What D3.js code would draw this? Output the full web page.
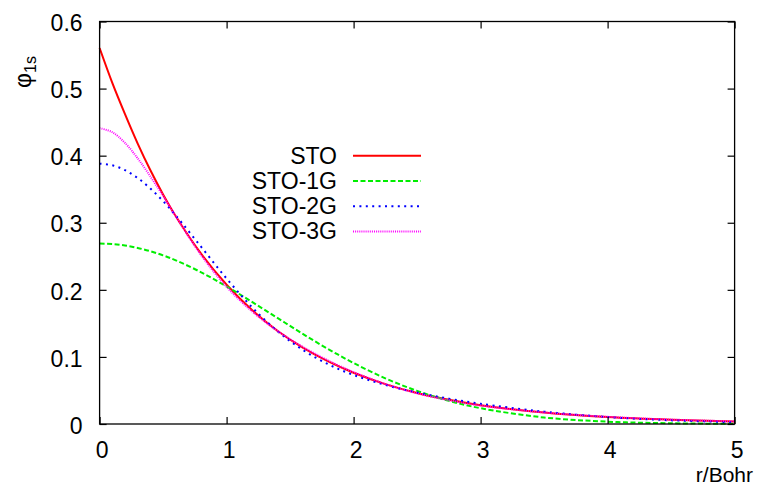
<!DOCTYPE html>
<html><head><meta charset="utf-8">
<script src="https://cdn.jsdelivr.net/npm/d3@7"></script>
<style>
html,body{margin:0;padding:0;background:#fff;}
svg text{font-family:"Liberation Sans",Arial,sans-serif;fill:#000;}
</style></head>
<body>
<svg id="chart" width="757" height="485"></svg>
<script>
// r values (Bohr)
const rValues = [0,0.1,0.2,0.3,0.4,0.5,0.6,0.8,1.0,1.2,1.4,1.6,1.8,2.0,2.25,2.5,2.75,3.0,3.5,4.0,4.5,5.0];
// series
const sto   = [0.5605,0.5085,0.4619,0.4180,0.3782,0.3422,0.3096,0.2535,0.2076,0.1699,0.1391,0.1139,0.0933,0.0764,0.0595,0.0463,0.0361,0.0281,0.0170,0.0103,0.0063,0.0038];
const sto1g = [0.2690,0.2683,0.2661,0.2625,0.2575,0.2513,0.2440,0.2261,0.2051,0.1820,0.1581,0.1343,0.1117,0.0909,0.0681,0.0494,0.0346,0.0235,0.0097,0.0035,0.0011,0.0003];
const sto2g = [0.3880,0.3856,0.3784,0.3666,0.3510,0.3322,0.3108,0.2640,0.2168,0.1741,0.1385,0.1105,0.0891,0.0731,0.0582,0.0469,0.0378,0.0302,0.0184,0.0104,0.0055,0.0027];
const sto3g = [0.4410,0.4350,0.4190,0.3960,0.3690,0.3400,0.3095,0.2515,0.2045,0.1679,0.1389,0.1149,0.0946,0.0773,0.0595,0.0458,0.0354,0.0275,0.0171,0.0107,0.0066,0.0039];
const seriesNames = ["STO","STO-1G","STO-2G","STO-3G"];
const seriesColors = ["#ff0000","#00ee00","#0000ff","#ff00ff"];
const seriesDash = [null,"5,2.5","2,4.4","1,1.1"];
const xTicks = [0,1,2,3,4,5];
const yTicks = [0,0.1,0.2,0.3,0.4,0.5,0.6];

const svg = d3.select("#chart");
const L = 99.6, R = 734.6, T = 21.5, B = 424;
const x = d3.scaleLinear().domain([0,5]).range([L,R]);
const y = d3.scaleLinear().domain([0,0.6]).range([B,T]);
const FS = 23;

// curves
const allSeries = [sto, sto1g, sto2g, sto3g];
const line = d3.line().x(d=>x(d[0])).y(d=>y(d[1])).curve(d3.curveCatmullRom.alpha(0.5));
const g = svg.append("g");
allSeries.forEach((s,i)=>{
  const pts = rValues.map((r,j)=>[r,s[j]]);
  const p = g.append("path").attr("d", line(pts)).attr("fill","none")
    .attr("stroke", seriesColors[i]).attr("stroke-width", 2);
  if (seriesDash[i]) p.attr("stroke-dasharray", seriesDash[i]);
});

// axes with inward ticks (mirrored)
const tk = 7;
const axB = d3.axisBottom(x).tickValues(xTicks).tickSize(-tk).tickPadding(tk+11).tickFormat(d3.format("d"));
const axT = d3.axisTop(x).tickValues(xTicks).tickSize(-tk).tickFormat("");
const axL = d3.axisLeft(y).tickValues(yTicks).tickSize(-tk).tickPadding(tk+10).tickFormat(d=>d===0?"0":d3.format(".1f")(d));
const axR = d3.axisRight(y).tickValues(yTicks).tickSize(-tk).tickFormat("");
function style(sel){
  sel.selectAll(".domain").remove();
  sel.selectAll("line").attr("stroke","#000").attr("stroke-width",1.2);
  sel.selectAll("text").attr("font-size",FS).attr("font-family","Liberation Sans, Arial, sans-serif");
}
svg.append("g").attr("transform",`translate(0,${B})`).call(axB).call(style)
  .selectAll("text").attr("dx",2);
svg.append("g").attr("transform",`translate(0,${T})`).call(axT).call(style);
svg.append("g").attr("transform",`translate(${L},0)`).call(axL).call(style)
  .selectAll("text").attr("dy","0.4em");
svg.append("g").attr("transform",`translate(${R},0)`).call(axR).call(style);

// frame
svg.append("rect").attr("x",L).attr("y",T).attr("width",R-L).attr("height",B-T)
  .attr("fill","none").attr("stroke","#000").attr("stroke-width",1.3);

// axis labels
svg.append("text").attr("x",753).attr("y",482).attr("text-anchor","end")
  .attr("font-size",21).text("r/Bohr");
const yl = svg.append("text").attr("transform","translate(31,72) rotate(-90)")
  .attr("text-anchor","middle").attr("font-size",23);
yl.append("tspan").text("φ");
yl.append("tspan").attr("font-size",16).attr("dy",5).text("1s");

// legend
const leg = svg.append("g");
seriesNames.forEach((n,i)=>{
  const ly = 155.7 + i*25.3;
  leg.append("text").attr("x",337).attr("y",ly+7.8).attr("text-anchor","end")
    .attr("font-size",FS).text(n);
  const l = leg.append("line").attr("x1",353).attr("x2",421).attr("y1",ly).attr("y2",ly)
    .attr("stroke",seriesColors[i]).attr("stroke-width",2);
  if (seriesDash[i]) l.attr("stroke-dasharray",seriesDash[i]);
});
</script>
</body></html>
